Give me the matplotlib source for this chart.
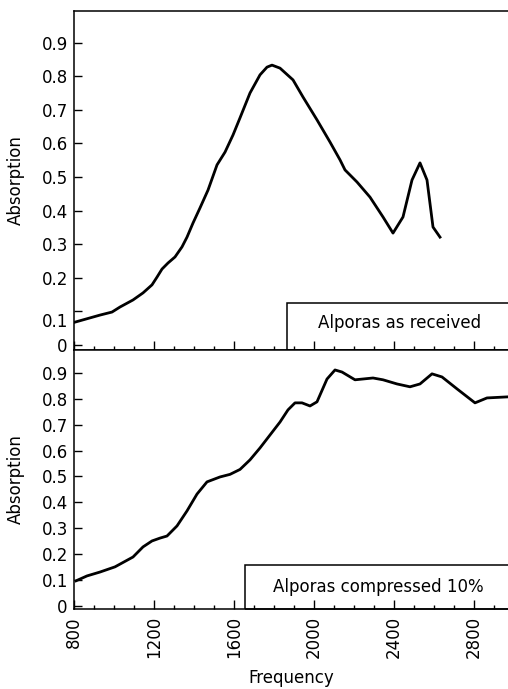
import numpy as np
import matplotlib.pyplot as plt
from matplotlib.patches import Rectangle
from matplotlib.ticker import MultipleLocator

# Alporas as received
freq_recv = [805, 930, 990, 1030, 1095, 1145, 1190, 1215, 1240, 1270, 1305, 1340,
             1365, 1395, 1430, 1470, 1515, 1555, 1595, 1630, 1680, 1730, 1765,
             1790, 1830, 1895, 1945, 2015, 2080, 2130, 2155, 2215, 2280, 2345,
             2395, 2445, 2490, 2530, 2565, 2595, 2630]
abs_recv = [0.068, 0.089, 0.098, 0.113, 0.134, 0.155, 0.179, 0.202, 0.226, 0.244,
            0.262, 0.292, 0.321, 0.363, 0.408, 0.461, 0.536, 0.574, 0.625, 0.676,
            0.750, 0.804, 0.827, 0.833, 0.824, 0.789, 0.738, 0.670, 0.604, 0.551,
            0.521, 0.485, 0.440, 0.381, 0.333, 0.381, 0.491, 0.542, 0.491, 0.351,
            0.321]

# Alporas compressed 10%
freq_comp = [810, 865, 930, 1005, 1095, 1145, 1190, 1230, 1265, 1315, 1365, 1415,
             1465, 1530, 1580, 1630, 1680, 1730, 1780, 1830, 1870, 1905, 1940,
             1980, 2015, 2065, 2105, 2140, 2205, 2295, 2345, 2415, 2480, 2530,
             2590, 2640, 2715, 2805, 2865, 2965]
abs_comp = [0.097, 0.116, 0.131, 0.151, 0.189, 0.228, 0.251, 0.262, 0.270, 0.309,
            0.367, 0.432, 0.479, 0.498, 0.508, 0.527, 0.564, 0.610, 0.660, 0.710,
            0.757, 0.784, 0.784, 0.772, 0.788, 0.876, 0.911, 0.903, 0.873, 0.880,
            0.873, 0.857, 0.846, 0.857, 0.896, 0.884, 0.838, 0.784, 0.803, 0.807]

yticks = [0, 0.1, 0.2, 0.3, 0.4, 0.5, 0.6, 0.7, 0.8, 0.9]
ytick_labels = ["0", "0.1", "0.2", "0.3", "0.4", "0.5", "0.6", "0.7", "0.8", "0.9"]
xticks = [800, 1200, 1600, 2000, 2400, 2800]

plt.rcParams['font.family'] = ['DejaVu Sans']
plt.rcParams['font.size'] = 12

fig = plt.figure(figsize=(5.08, 6.89), dpi=100)
ax1 = fig.add_axes([0.1457, 0.492, 0.8543, 0.492])
ax2 = fig.add_axes([0.1457, 0.116, 0.8543, 0.376])

for ax in (ax1, ax2):
    ax.set_xlim(800, 2970)
    ax.spines['right'].set_visible(False)
    for s in ax.spines.values():
        s.set_linewidth(1.1)
    ax.set_xticks(xticks)
    ax.xaxis.set_minor_locator(MultipleLocator(100))
    ax.tick_params(axis='x', which='major', direction='in', length=6.5, width=1)
    ax.tick_params(axis='x', which='minor', direction='in', length=3, width=1)
    ax.tick_params(axis='y', direction='in', length=6, width=1, pad=4.5)
    ax.set_yticks(yticks)
    ax.set_ylabel("Absorption", fontsize=12)
    ax.yaxis.set_label_coords(-0.113, 0.5)

# top panel
ax1.plot(freq_recv, abs_recv, color='black', lw=2.0, solid_joinstyle='round')
ax1.set_ylim(-0.015, 0.994)
lab1 = list(ytick_labels)
lab1[1] = ""
ax1.set_yticklabels(lab1)
ax1.text(-0.014, 0.068, "0.1", transform=ax1.get_yaxis_transform(),
         ha='right', va='center', fontsize=12)
ax1.tick_params(axis='x', labelbottom=False)
ax1.add_patch(Rectangle((0.491, 0), 0.6, 0.139, transform=ax1.transAxes,
                        fill=False, lw=1.1, ec='black', clip_on=False))
ax1.text(0.751, 0.080, "Alporas as received", transform=ax1.transAxes,
         ha='center', va='center', fontsize=12)

# bottom panel
ax2.plot(freq_comp, abs_comp, color='black', lw=2.0, solid_joinstyle='round')
ax2.set_ylim(-0.012, 0.988)
ax2.set_yticklabels(ytick_labels)
ax2.set_xticklabels([str(x) for x in xticks], rotation=90)
ax2.tick_params(axis='x', which='major', pad=5)
ax2.set_xlabel("Frequency", fontsize=12, labelpad=8)
ax2.add_patch(Rectangle((0.394, 0), 0.7, 0.170, transform=ax2.transAxes,
                        fill=False, lw=1.1, ec='black', clip_on=False))
ax2.text(0.702, 0.085, "Alporas compressed 10%", transform=ax2.transAxes,
         ha='center', va='center', fontsize=12)

fig.savefig("out.png", dpi=100)
